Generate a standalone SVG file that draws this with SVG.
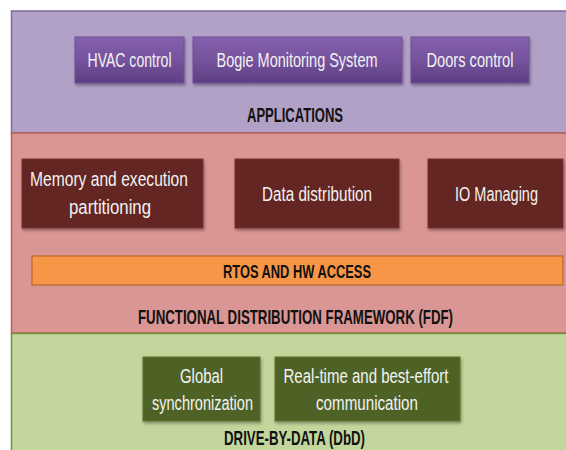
<svg xmlns="http://www.w3.org/2000/svg" width="566" height="450" viewBox="0 0 566 450">
<defs>
  <linearGradient id="gPurple" x1="0" y1="0" x2="0" y2="1">
    <stop offset="0" stop-color="#8560ad"/>
    <stop offset="0.5" stop-color="#75539e"/>
    <stop offset="1" stop-color="#5d3f81"/>
  </linearGradient>
  <filter id="sh" x="-10%" y="-10%" width="125%" height="135%">
    <feDropShadow dx="1" dy="2" stdDeviation="1.5" flood-color="#000" flood-opacity="0.35"/>
  </filter>
  <style>
    .band { stroke-width: 1.5; }
    .lbl { font-family: "Liberation Sans Narrow", "Liberation Sans", Arial, sans-serif; font-size: 20px; fill: #f2f2f2; text-anchor: middle; }
    .ttl { font-family: "Liberation Sans Narrow", "Liberation Sans", Arial, sans-serif; font-size: 20px; font-weight: bold; fill: #111; text-anchor: middle; }
    .pbox { fill: url(#gPurple); stroke: #6e5096; stroke-width: 1; filter: url(#sh); }
    .rbox { fill: #632523; stroke: #7a3431; stroke-width: 1; filter: url(#sh); }
    .gbox { fill: #4f6228; stroke: #5d722f; stroke-width: 1; filter: url(#sh); }
  </style>
</defs>
<rect x="0" y="0" width="566" height="450" fill="#ffffff"/>

<g id="applications">
  <rect class="band" x="11.5" y="11" width="560" height="122" fill="#b2a1c7" stroke="#7d6b99"/>
  <text class="ttl" x="295" y="122" textLength="96" lengthAdjust="spacingAndGlyphs">APPLICATIONS</text>
</g>
<g id="hvac">
  <rect class="pbox" x="75" y="37" width="109" height="46"/>
  <text class="lbl" x="129.5" y="67" textLength="84" lengthAdjust="spacingAndGlyphs">HVAC control</text>
</g>
<g id="bogie">
  <rect class="pbox" x="193" y="37" width="209" height="46"/>
  <text class="lbl" x="297" y="67" textLength="161" lengthAdjust="spacingAndGlyphs">Bogie Monitoring System</text>
</g>
<g id="doors">
  <rect class="pbox" x="411" y="37" width="118" height="46"/>
  <text class="lbl" x="470" y="67" textLength="87" lengthAdjust="spacingAndGlyphs">Doors control</text>
</g>

<g id="fdf">
  <rect class="band" x="11.5" y="133" width="560" height="200" fill="#d99694" stroke="#b65e5b"/>
  <text class="ttl" x="295.5" y="324" textLength="315" lengthAdjust="spacingAndGlyphs">FUNCTIONAL DISTRIBUTION FRAMEWORK (FDF)</text>
</g>
<g id="memory">
  <rect class="rbox" x="22" y="159" width="181" height="69"/>
  <text class="lbl" x="109" y="186" textLength="158" lengthAdjust="spacingAndGlyphs">Memory and execution</text>
  <text class="lbl" x="110" y="214" textLength="82" lengthAdjust="spacingAndGlyphs">partitioning</text>
</g>
<g id="data">
  <rect class="rbox" x="235" y="159" width="164" height="69"/>
  <text class="lbl" x="317" y="201" textLength="110" lengthAdjust="spacingAndGlyphs">Data distribution</text>
</g>
<g id="io">
  <rect class="rbox" x="428" y="159" width="135" height="69"/>
  <text class="lbl" x="496.5" y="201" textLength="83" lengthAdjust="spacingAndGlyphs">IO Managing</text>
</g>
<g id="rtos">
  <rect x="32" y="256" width="531" height="29" fill="#f79646" stroke="#b8692c" stroke-width="1.2"/>
  <text class="ttl" x="297" y="278" style="font-size:18px" textLength="148" lengthAdjust="spacingAndGlyphs">RTOS AND HW ACCESS</text>
</g>

<g id="dbd">
  <rect class="band" x="11.5" y="333.5" width="560" height="130" fill="#c3d69b" stroke="#76923c"/>
  <text class="ttl" x="294.5" y="445" textLength="141" lengthAdjust="spacingAndGlyphs">DRIVE-BY-DATA (DbD)</text>
</g>
<g id="global">
  <rect class="gbox" x="143" y="357" width="117" height="64"/>
  <text class="lbl" x="201.5" y="383" textLength="43" lengthAdjust="spacingAndGlyphs">Global</text>
  <text class="lbl" x="202.5" y="410" textLength="101" lengthAdjust="spacingAndGlyphs">synchronization</text>
</g>
<g id="realtime">
  <rect class="gbox" x="275" y="357" width="185" height="64"/>
  <text class="lbl" x="366" y="383" textLength="165" lengthAdjust="spacingAndGlyphs">Real-time and best-effort</text>
  <text class="lbl" x="367" y="410" textLength="102" lengthAdjust="spacingAndGlyphs">communication</text>
</g>
<g id="connectors"></g>
</svg>
